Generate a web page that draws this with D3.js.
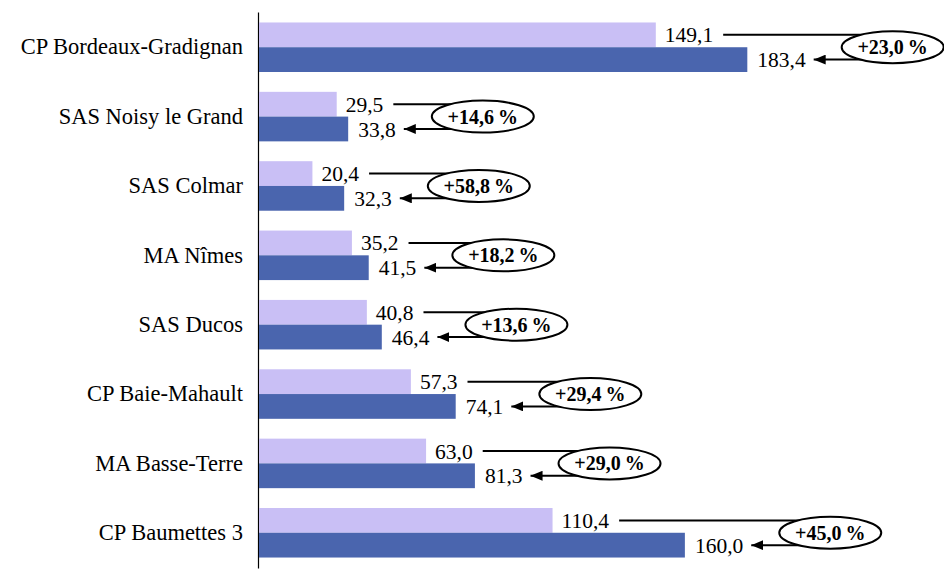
<!DOCTYPE html>
<html>
<head>
<meta charset="utf-8">
<script src="https://cdn.jsdelivr.net/npm/d3@7"></script>
<style>
  body { margin: 0; background: #fff; }
  svg { display: block; font-family: "Liberation Serif", "DejaVu Serif", serif; }
</style>
</head>
<body>
<script>
const categories = [
    "CP Bordeaux-Gradignan",
    "SAS Noisy le Grand",
    "SAS Colmar",
    "MA Nîmes",
    "SAS Ducos",
    "CP Baie-Mahault",
    "MA Basse-Terre",
    "CP Baumettes 3"
];
const before = [149.1, 29.5, 20.4, 35.2, 40.8, 57.3, 63.0, 110.4];
const after = [183.4, 33.8, 32.3, 41.5, 46.4, 74.1, 81.3, 160.0];
const growth = ["+23,0", "+14,6", "+58,8", "+18,2", "+13,6", "+29,4", "+29,0", "+45,0"];

const width = 944, height = 583;
const fmt = v => v.toFixed(1).replace('.', ',');

const svg = d3.select('body').append('svg')
    .attr('width', width).attr('height', height);

// arrow head, drawn pointing along the line
svg.append('defs').append('marker')
    .attr('id', 'arrow')
    .attr('viewBox', '0 0 12 10')
    .attr('refX', 12).attr('refY', 5)
    .attr('markerWidth', 12).attr('markerHeight', 10)
    .attr('markerUnits', 'userSpaceOnUse')
    .attr('orient', 'auto')
    .append('path').attr('d', 'M12,5 L0,0 L0,10 Z').attr('fill', '#000');

const x = d3.scaleLinear().domain([0, 250]).range([258, 925]);
const y = d3.scaleBand()
    .domain(categories)
    .range([12, 568])
    .paddingInner(0.286)
    .paddingOuter(0.151);
const half = y.bandwidth() / 2;

// category axis
const axis = svg.append('g')
    .attr('transform', `translate(${x(0)},0)`)
    .call(d3.axisLeft(y).tickSize(0).tickPadding(15));
axis.select('.domain').attr('stroke', '#000').attr('stroke-width', 1.2);
axis.selectAll('text')
    .style('font-family', '"Liberation Serif", serif')
    .style('font-size', '22.5px')
    .attr('fill', '#000');

const rows = categories.map((c, i) => ({c, a: before[i], b: after[i], g: growth[i]}));

const grp = svg.selectAll('g.row').data(rows).enter().append('g').attr('class', 'row');

grp.append('rect')
    .attr('x', x(0) + 1)
    .attr('y', d => y(d.c))
    .attr('width', d => x(d.a) - x(0) - 1)
    .attr('height', half)
    .attr('fill', '#C9BFF5');

grp.append('rect')
    .attr('x', x(0) + 1)
    .attr('y', d => y(d.c) + half)
    .attr('width', d => x(d.b) - x(0) - 1)
    .attr('height', half)
    .attr('fill', '#4A65AE');

const labA = grp.append('text')
    .attr('x', d => x(d.a) + 9)
    .attr('y', d => y(d.c) + half / 2)
    .attr('dy', '0.35em')
    .style('font-size', '21.5px')
    .text(d => fmt(d.a));

const labB = grp.append('text')
    .attr('x', d => x(d.b) + 10)
    .attr('y', d => y(d.c) + half * 1.5)
    .attr('dy', '0.35em')
    .style('font-size', '21.5px')
    .text(d => fmt(d.b));

grp.each(function(d, i) {
    const g = d3.select(this);
    const wA = labA.nodes()[i].getComputedTextLength();
    const wB = labB.nodes()[i].getComputedTextLength();
    const endA = x(d.a) + 9 + wA;
    const endB = x(d.b) + 10 + wB;
    const cx = endB + 87;
    const cy = y(d.c) + half;
    const rx = 51, ry = 16;

    g.append('line')
        .attr('x1', endA + 10).attr('x2', cx)
        .attr('y1', y(d.c) + half / 2).attr('y2', y(d.c) + half / 2)
        .attr('stroke', '#000').attr('stroke-width', 2);

    g.append('line')
        .attr('x1', cx).attr('x2', endB + 8)
        .attr('y1', y(d.c) + half * 1.5).attr('y2', y(d.c) + half * 1.5)
        .attr('stroke', '#000').attr('stroke-width', 2)
        .attr('marker-end', 'url(#arrow)');

    g.append('ellipse')
        .attr('cx', cx).attr('cy', cy)
        .attr('rx', rx).attr('ry', ry)
        .attr('fill', '#fff').attr('stroke', '#000').attr('stroke-width', 2);

    g.append('text')
        .attr('x', cx).attr('y', cy)
        .attr('dy', '0.35em')
        .attr('text-anchor', 'middle')
        .style('font-size', '20px')
        .style('font-weight', 'bold')
        .text(d.g + '\u2009%');
});
</script>
</body>
</html>
